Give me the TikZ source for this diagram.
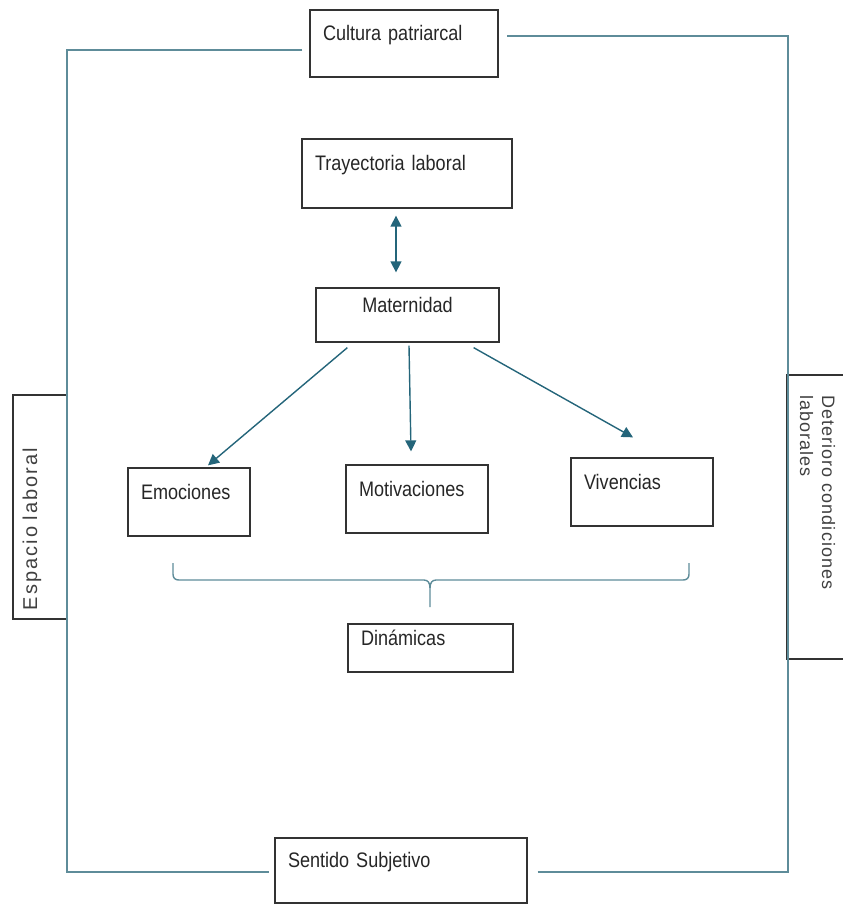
\documentclass[tikz,border=0pt]{standalone}
\usepackage{fontspec}
\setmainfont{Liberation Sans}[FakeStretch=0.86]
\newfontfamily\espfont[LetterSpace=10]{Liberation Sans}
\newfontfamily\detfont[LetterSpace=6]{Liberation Sans}
\usetikzlibrary{arrows.meta,calc}
\definecolor{framec}{HTML}{5E8C99}
\definecolor{arrc}{HTML}{24657A}
\definecolor{boxc}{HTML}{333333}
\definecolor{txtc}{HTML}{262626}
\begin{document}
\begin{tikzpicture}[x=1pt,y=-1pt,
  box/.style={draw=boxc, line width=1.3pt, rectangle, inner ysep=0pt, inner xsep=13pt,
    text=txtc, font=\fontsize{21}{25}\selectfont, text height=13pt, text depth=19pt, align=left},
  frame/.style={draw=framec, line width=1.4pt},
  arr/.style={draw=arrc, line width=1.4pt, -{Triangle[length=11pt,width=11pt]}},
  darr/.style={draw=arrc, line width=1.4pt, {Triangle[length=11pt,width=11pt]}-{Triangle[length=11pt,width=11pt]}}
]
\useasboundingbox (0,0) rectangle (843,905);

% boxes
\node[box, minimum width=188pt, minimum height=67pt, text width=162pt] (cultura) at (404,43.5) {Cultura patriarcal};
\node[box, minimum width=210pt, minimum height=69pt, text width=184pt] (tray) at (407,173.5) {Trayectoria laboral};
\node[box, align=center, minimum width=183pt, minimum height=54pt, text width=157pt] (mat) at (407.5,315) {Maternidad};
\node[box, minimum width=122pt, minimum height=68pt, text width=96pt] (emo) at (189,502) {Emociones};
\node[box, minimum width=142pt, minimum height=68pt, text width=116pt] (mot) at (417,499) {Motivaciones};
\node[box, minimum width=142pt, minimum height=68pt, text width=116pt] (viv) at (642,492) {Vivencias};
\node[box, minimum width=165pt, minimum height=48pt, text width=139pt] (din) at (430.5,648) {Dinámicas};
\node[box, minimum width=252pt, minimum height=65pt, text width=226pt] (sent) at (401,870.5) {Sentido Subjetivo};

% rotated side boxes
\node[box, rotate=90, minimum width=224pt, minimum height=54pt, inner xsep=9pt, text width=206pt,
  text=black!75, font=\espfont\fontsize{20}{24}\selectfont] (esp) at (40,507) {Espacio laboral};
\node[box, rotate=-90, minimum width=284pt, minimum height=70pt, inner xsep=20pt, text width=244pt,
  text height=13pt, text depth=13pt, text=black!75, font=\detfont\fontsize{18}{22}\selectfont]
  (det) at (822,517) {Deterioro condiciones\\laborales};

% outer frame
\coordinate (tl) at (67,50);
\coordinate (bl) at (67,872);
\coordinate (br) at (788,872);
\coordinate (tr) at (788,36);
\coordinate (c1) at ($(cultura.west)+(-7,0)$);
\coordinate (c2) at ($(cultura.east)+(8,0)$);
\coordinate (s1) at ($(sent.west)+(-5,0)$);
\coordinate (s2) at ($(sent.east)+(10,0)$);
\draw[frame] (c1 |- tl) -- (tl) -- (bl) -- (s1 |- bl);
\draw[frame] (s2 |- br) -- (br) -- (tr) -- (c2 |- tr);

% arrows
\draw[darr] ($(tray.south)+(-11,7)$) -- ($(mat.north)+(-11.5,-15)$);
\draw[arr] ($(mat.south west)+(32,5)$) -- ($(emo.north)+(19,-2)$);
\draw[arr] ($(mat.south)+(1.5,3)$) -- ($(mot.north)+(-6,-13)$);
\draw[arr] ($(mat.south east)+(-26,5)$) -- ($(viv.north)+(-9,-20)$);

% brace
\coordinate (bL) at (173,563);
\coordinate (bR) at (689,563);
\coordinate (bT) at (430,607);
\draw[frame] (bL) -- (173,574) .. controls (173,578) and (175,580) .. (179,580) -- (424,580)
  .. controls (428,580) and (430,583) .. (430,588) -- (bT);
\draw[frame] (bR) -- (689,574) .. controls (689,578) and (687,580) .. (683,580) -- (436,580)
  .. controls (432,580) and (430,583) .. (430,588);
\end{tikzpicture}
\end{document}
